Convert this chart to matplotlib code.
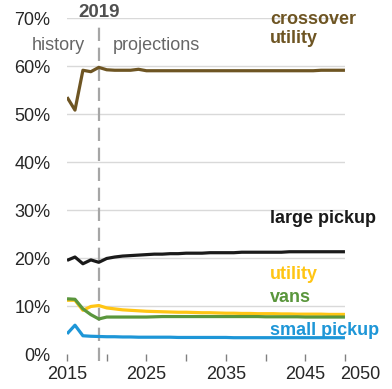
import numpy as np
import matplotlib.transforms as mtransforms
from matplotlib import pyplot as plt

years = np.arange(2015, 2051)

crossover_utility = [53.6, 50.9, 59.2, 58.9, 59.8, 59.3, 59.2, 59.2, 59.2, 59.4,
                     59.1, 59.1, 59.1, 59.1, 59.1, 59.1, 59.1, 59.1, 59.1, 59.1,
                     59.1, 59.1, 59.1, 59.1, 59.1, 59.1, 59.1, 59.1, 59.1, 59.1,
                     59.1, 59.1, 59.2, 59.2, 59.2, 59.2]
large_pickup = [19.6, 20.3, 18.9, 19.7, 19.2, 20.0, 20.3, 20.5, 20.6, 20.7,
                20.8, 20.9, 20.9, 21.0, 21.0, 21.1, 21.1, 21.1, 21.2, 21.2,
                21.2, 21.2, 21.3, 21.3, 21.3, 21.3, 21.3, 21.3, 21.4, 21.4,
                21.4, 21.4, 21.4, 21.4, 21.4, 21.4]
utility = [11.3, 11.3, 9.2, 10.0, 10.2, 9.7, 9.5, 9.3, 9.2, 9.1,
           9.0, 8.95, 8.9, 8.85, 8.8, 8.8, 8.75, 8.7, 8.7, 8.65,
           8.6, 8.6, 8.55, 8.55, 8.5, 8.5, 8.5, 8.45, 8.45, 8.4,
           8.4, 8.4, 8.4, 8.35, 8.35, 8.35]
vans = [11.6, 11.5, 9.5, 8.3, 7.4, 7.8, 7.8, 7.8, 7.8, 7.8,
        7.8, 7.85, 7.9, 7.9, 7.9, 7.9, 7.9, 7.9, 7.9, 7.9,
        7.9, 7.9, 7.9, 7.9, 7.9, 7.85, 7.85, 7.85, 7.85, 7.85,
        7.8, 7.8, 7.8, 7.8, 7.8, 7.8]
small_pickup = [4.3, 6.1, 3.9, 3.8, 3.75, 3.7, 3.7, 3.65, 3.65, 3.6,
                3.6, 3.6, 3.6, 3.6, 3.55, 3.55, 3.55, 3.55, 3.55, 3.55,
                3.55, 3.5, 3.5, 3.5, 3.5, 3.5, 3.5, 3.5, 3.5, 3.5,
                3.5, 3.5, 3.5, 3.5, 3.5, 3.5]

series = [
    ("crossover\nutility", crossover_utility, "#6e5523", 64.9),
    ("large pickup", large_pickup, "#1a1a1a", 27.4),
    ("utility", utility, "#ffc514", 15.7),
    ("vans", vans, "#5a963c", 11.0),
    ("small pickup", small_pickup, "#1e96d7", 4.05),
]

x_ticks = [2015, 2020, 2025, 2030, 2035, 2040, 2045, 2050]
x_labels = ["2015", "", "2025", "", "2035", "", "2045", "2050"]
y_ticks = [0, 10, 20, 30, 40, 50, 60, 70]

plt.rcParams['font.family'] = ['Liberation Sans', 'DejaVu Sans']

fig = plt.figure(figsize=(3.92, 3.89), dpi=100)
ax = fig.add_axes([0.171, 0.0887, 0.709, 0.864])

for y in y_ticks[1:]:
    ax.axhline(y, color="#d9d9d9", lw=1, zorder=0)

for label, values, color, label_y in series:
    ax.plot(years, values, color=color, lw=2.3, solid_capstyle='butt', zorder=3)
    ax.text(2040.6, label_y, label, color=color, fontsize=13, fontweight='bold',
            ha='left', va='baseline', linespacing=1.15)

ax.axvline(2019, ymin=-0.02, ymax=0.985, color="#a6a6a6", lw=1.6,
           dashes=(6, 3), clip_on=False, zorder=2)
ax.text(2019, 70.2, "2019", color="#505050", fontsize=13.5, fontweight='bold',
        ha='center', va='baseline')
ax.text(2017.3, 63.4, "history", color="#666666", fontsize=13, ha='right', va='baseline')
ax.text(2020.8, 63.4, "projections", color="#666666", fontsize=13, ha='left', va='baseline')

ax.set_xlim(2015, 2050)
ax.set_ylim(0, 70)
ax.set_xticks(x_ticks)
ax.set_xticklabels(x_labels)
ax.set_yticks(y_ticks)
ax.set_yticklabels([f"{v}%" for v in y_ticks])
ax.tick_params(axis='x', length=5, width=1, color="#808080", labelsize=13,
               labelcolor="#262626", pad=3)
ax.tick_params(axis='y', length=0, labelsize=13, labelcolor="#262626", pad=12)
for s in ax.spines.values():
    s.set_visible(False)

# last year label sits to the right of its tick, as in the original
last = ax.get_xticklabels()[-1]
last.set_horizontalalignment('left')
last.set_transform(last.get_transform() +
                   mtransforms.ScaledTranslation(-5 / 100, 0, fig.dpi_scale_trans))

fig.savefig("out.png", dpi=100)
